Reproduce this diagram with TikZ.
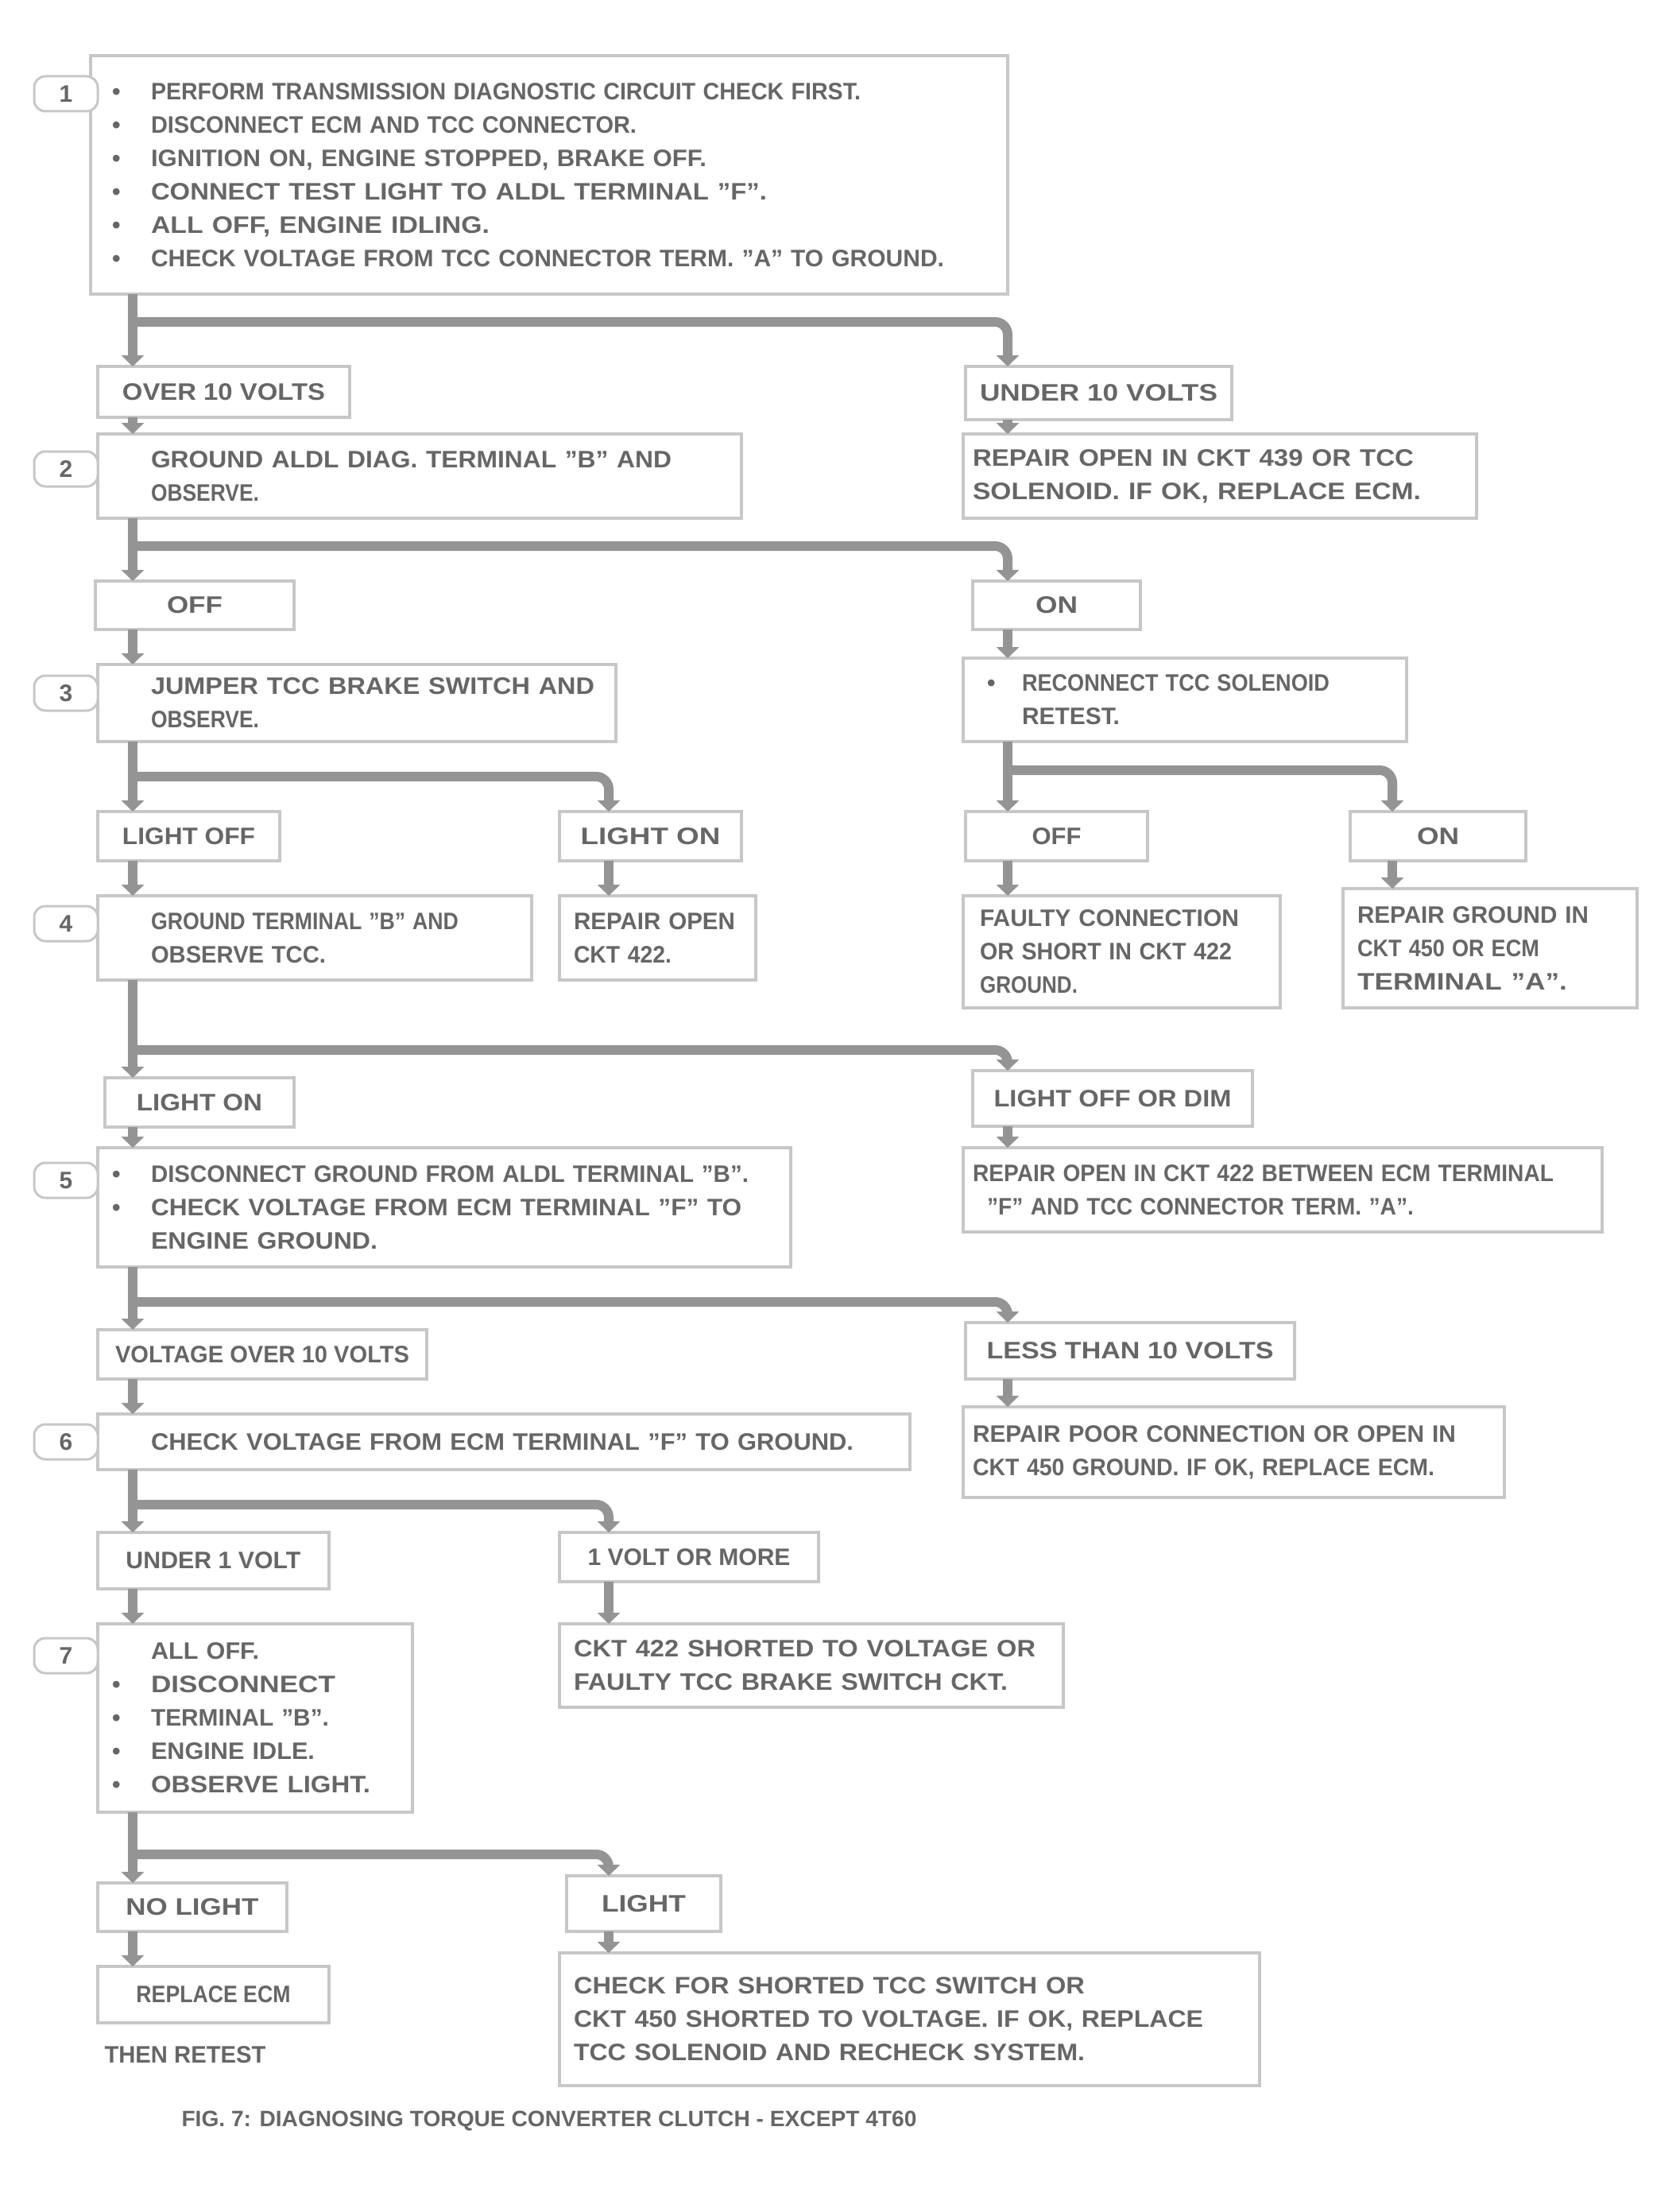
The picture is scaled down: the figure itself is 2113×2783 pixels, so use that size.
\documentclass[tikz,border=0pt]{standalone}
\usepackage{fontspec}
\setmainfont{Liberation Sans}
\usepackage{graphicx}
\usetikzlibrary{arrows.meta}
\newcommand{\fitw}[2]{\resizebox{#1pt}{\height}{#2}}
\newcommand{\mbul}{\makebox[49pt][l]{\textbullet}}
\newcommand{\nbul}{\hspace*{49pt}}
\newcommand{\qq}{\symbol{34}}
\newcommand{\bx}[7]{%
  \pgfmathsetmacro{\mytw}{#4-2*#6}%
  \node[stepbox, minimum width=#4pt, minimum height=#5pt, inner xsep=#6pt, text width=\mytw pt] (#1) at (#2,#3) {#7};}
\newcommand{\rbx}[6]{\node[resbox, minimum width=#4pt, minimum height=#5pt] (#1) at (#2,#3) {#6};}
\tikzset{
  stepbox/.style={draw=black!22, line width=3.5pt, fill=white, anchor=north west, align=left, inner ysep=0pt, outer sep=0pt, font=\fontsize{30}{42}\selectfont\bfseries, text=black!60},
  resbox/.style={draw=black!22, line width=3.5pt, fill=white, anchor=north west, align=center, inner sep=0pt, outer sep=0pt, font=\fontsize{30}{42}\selectfont\bfseries, text=black!60},
  tagbox/.style={draw=black!22, line width=3pt, fill=white, rounded corners=14pt, minimum width=80pt, minimum height=44pt, inner sep=0pt, font=\fontsize{30}{36}\selectfont\bfseries, text=black!60},
  plaintext/.style={inner sep=0pt, font=\fontsize{30}{42}\selectfont\bfseries, text=black!60},
  flow/.style={draw=black!42, line width=12pt, -{Triangle[width=28pt,length=14pt]}, rounded corners=16pt},
}
\begin{document}
\begin{tikzpicture}[x=1pt, y=-1pt]
\useasboundingbox (0,0) rectangle (2113,2783);
\fill[white] (0,0) rectangle (2113,2783);
% spines and junctions
\coordinate (sL) at (167,0);
\coordinate (sM) at (766,0);
\coordinate (sR) at (1268,0);
\coordinate (sF) at (1752,0);
\coordinate (j1) at (167,405);
\coordinate (j2) at (167,687);
\coordinate (j3l) at (167,977);
\coordinate (j3r) at (1268,969);
\coordinate (j4) at (167,1321);
\coordinate (j5) at (167,1638);
\coordinate (j6) at (167,1893);
\coordinate (j7) at (167,2333);

% step boxes
\bx{B1}{114}{70}{1154}{300}{27}{%
\mbul\fitw{893}{PERFORM TRANSMISSION DIAGNOSTIC CIRCUIT CHECK FIRST.}\\
\mbul\fitw{611}{DISCONNECT ECM AND TCC CONNECTOR.}\\
\mbul\fitw{699}{IGNITION ON, ENGINE STOPPED, BRAKE OFF.}\\
\mbul\fitw{775}{CONNECT TEST LIGHT TO ALDL TERMINAL \qq F\qq.}\\
\mbul\fitw{426}{ALL OFF, ENGINE IDLING.}\\
\mbul\fitw{998}{CHECK VOLTAGE FROM TCC CONNECTOR TERM. \qq A\qq{} TO GROUND.}}

\rbx{R1L}{123}{461}{317}{64}{\fitw{255}{OVER 10 VOLTS}}
\rbx{R1R}{1215}{461}{335}{67}{\fitw{299}{UNDER 10 VOLTS}}

\bx{B2L}{123}{546}{810}{106}{18}{%
\nbul\fitw{655}{GROUND ALDL DIAG. TERMINAL \qq B\qq{} AND}\\
\nbul\fitw{136}{OBSERVE.}}
\bx{B2R}{1212}{546}{646}{106}{12}{%
\fitw{555}{REPAIR OPEN IN CKT 439 OR TCC}\\
\fitw{564}{SOLENOID. IF OK, REPLACE ECM.}}

\rbx{R2L}{120}{731}{250}{61}{\fitw{70}{OFF}}
\rbx{R2R}{1224}{731}{211}{61}{\fitw{53}{ON}}

\bx{B3L}{123}{836}{652}{97}{18}{%
\nbul\fitw{558}{JUMPER TCC BRAKE SWITCH AND}\\
\nbul\fitw{136}{OBSERVE.}}
\bx{B3R}{1212}{828}{558}{105}{30}{%
\makebox[44pt][l]{\textbullet}\fitw{387}{RECONNECT TCC SOLENOID}\\
\hspace*{44pt}\fitw{123}{RETEST.}}

\rbx{R3L}{123}{1021}{229}{62}{\fitw{167}{LIGHT OFF}}
\rbx{R3M}{704}{1021}{229}{62}{\fitw{176}{LIGHT ON}}
\rbx{R3R1}{1215}{1021}{229}{62}{\fitw{62}{OFF}}
\rbx{R3R2}{1699}{1021}{221}{62}{\fitw{53}{ON}}

\bx{B4L}{123}{1127}{546}{106}{18}{%
\nbul\fitw{387}{GROUND TERMINAL \qq B\qq{} AND}\\
\nbul\fitw{220}{OBSERVE TCC.}}
\bx{B4M}{704}{1127}{247}{106}{18}{%
\fitw{203}{REPAIR OPEN}\\
\fitw{123}{CKT 422.}}
\bx{B4R1}{1212}{1127}{399}{141}{21}{%
\fitw{326}{FAULTY CONNECTION}\\
\fitw{317}{OR SHORT IN CKT 422}\\
\fitw{123}{GROUND.}}
\bx{B4R2}{1690}{1118}{370}{150}{18}{%
\fitw{291}{REPAIR GROUND IN}\\
\fitw{229}{CKT 450 OR ECM}\\
\fitw{264}{TERMINAL \qq A\qq.}}

\rbx{R4L}{132}{1356}{238}{62}{\fitw{158}{LIGHT ON}}
\rbx{R4R}{1224}{1347}{352}{70}{\fitw{299}{LIGHT OFF OR DIM}}

\bx{B5L}{123}{1444}{872}{150}{18}{%
\mbul\fitw{752}{DISCONNECT GROUND FROM ALDL TERMINAL \qq B\qq.}\\
\mbul\fitw{743}{CHECK VOLTAGE FROM ECM TERMINAL \qq F\qq{} TO}\\
\nbul\fitw{285}{ENGINE GROUND.}}
\bx{B5R}{1212}{1444}{804}{106}{12}{%
\fitw{731}{REPAIR OPEN IN CKT 422 BETWEEN ECM TERMINAL}\\
\hspace*{18pt}\fitw{537}{\qq F\qq{} AND TCC CONNECTOR TERM. \qq A\qq.}}

\rbx{R5L}{123}{1673}{414}{62}{\fitw{370}{VOLTAGE OVER 10 VOLTS}}
\rbx{R5R}{1215}{1664}{414}{71}{\fitw{361}{LESS THAN 10 VOLTS}}

\bx{B6L}{123}{1779}{1022}{70}{18}{%
\nbul\fitw{884}{CHECK VOLTAGE FROM ECM TERMINAL \qq F\qq{} TO GROUND.}}
\bx{B6R}{1212}{1770}{681}{114}{12}{%
\fitw{608}{REPAIR POOR CONNECTION OR OPEN IN}\\
\fitw{581}{CKT 450 GROUND. IF OK, REPLACE ECM.}}

\rbx{R6L}{123}{1928}{291}{71}{\fitw{220}{UNDER 1 VOLT}}
\rbx{R6M}{704}{1928}{326}{62}{\fitw{255}{1 VOLT OR MORE}}

\bx{B7L}{123}{2043}{396}{237}{18}{%
\nbul\fitw{136}{ALL OFF.}\\
\mbul\fitw{232}{DISCONNECT}\\
\mbul\fitw{224}{TERMINAL \qq B\qq.}\\
\mbul\fitw{206}{ENGINE IDLE.}\\
\mbul\fitw{276}{OBSERVE LIGHT.}}
\bx{B7M}{704}{2043}{634}{105}{18}{%
\fitw{581}{CKT 422 SHORTED TO VOLTAGE OR}\\
\fitw{546}{FAULTY TCC BRAKE SWITCH CKT.}}

\rbx{R7L}{123}{2369}{238}{61}{\fitw{167}{NO LIGHT}}
\rbx{R7M}{713}{2360}{194}{70}{\fitw{106}{LIGHT}}

\rbx{B8L}{123}{2474}{291}{71}{\fitw{194}{REPLACE ECM}}
\node[plaintext] (B8N) at (233,2585) {\fitw{203}{THEN RETEST}};
\bx{B8M}{704}{2457}{881}{167}{18}{%
\fitw{643}{CHECK FOR SHORTED TCC SWITCH OR}\\
\fitw{792}{CKT 450 SHORTED TO VOLTAGE. IF OK, REPLACE}\\
\fitw{643}{TCC SOLENOID AND RECHECK SYSTEM.}}

% step tags
\node[tagbox] (t1) at (83,118) {1};
\node[tagbox] (t2) at (83,590) {2};
\node[tagbox] (t3) at (83,872) {3};
\node[tagbox] (t4) at (83,1162) {4};
\node[tagbox] (t5) at (83,1485) {5};
\node[tagbox] (t6) at (83,1814) {6};
\node[tagbox] (t7) at (83,2083) {7};

% caption
\node[plaintext, font=\fontsize{28}{34}\selectfont\bfseries] (cap) at (691,2668) {\fitw{925}{FIG. 7: DIAGNOSING TORQUE CONVERTER CLUTCH - EXCEPT 4T60}};

% connectors
\draw[flow] (sL |- B1.south) -- (sL |- R1L.north);
\draw[flow] (j1) -| (sR |- R1R.north);
\draw[flow] (sL |- R1L.south) -- (sL |- B2L.north);
\draw[flow] (sR |- R1R.south) -- (sR |- B2R.north);
\draw[flow] (sL |- B2L.south) -- (sL |- R2L.north);
\draw[flow] (j2) -| (sR |- R2R.north);
\draw[flow] (sL |- R2L.south) -- (sL |- B3L.north);
\draw[flow] (sR |- R2R.south) -- (sR |- B3R.north);
\draw[flow] (sL |- B3L.south) -- (sL |- R3L.north);
\draw[flow] (j3l) -| (sM |- R3M.north);
\draw[flow] (sR |- B3R.south) -- (sR |- R3R1.north);
\draw[flow] (j3r) -| (sF |- R3R2.north);
\draw[flow] (sL |- R3L.south) -- (sL |- B4L.north);
\draw[flow] (sM |- R3M.south) -- (sM |- B4M.north);
\draw[flow] (sR |- R3R1.south) -- (sR |- B4R1.north);
\draw[flow] (sF |- R3R2.south) -- (sF |- B4R2.north);
\draw[flow] (sL |- B4L.south) -- (sL |- R4L.north);
\draw[flow] (j4) -| (sR |- R4R.north);
\draw[flow] (sL |- R4L.south) -- (sL |- B5L.north);
\draw[flow] (sR |- R4R.south) -- (sR |- B5R.north);
\draw[flow] (sL |- B5L.south) -- (sL |- R5L.north);
\draw[flow] (j5) -| (sR |- R5R.north);
\draw[flow] (sL |- R5L.south) -- (sL |- B6L.north);
\draw[flow] (sR |- R5R.south) -- (sR |- B6R.north);
\draw[flow] (sL |- B6L.south) -- (sL |- R6L.north);
\draw[flow] (j6) -| (sM |- R6M.north);
\draw[flow] (sL |- R6L.south) -- (sL |- B7L.north);
\draw[flow] (sM |- R6M.south) -- (sM |- B7M.north);
\draw[flow] (sL |- B7L.south) -- (sL |- R7L.north);
\draw[flow] (j7) -| (sM |- R7M.north);
\draw[flow] (sL |- R7L.south) -- (sL |- B8L.north);
\draw[flow] (sM |- R7M.south) -- (sM |- B8M.north);
\end{tikzpicture}
\end{document}
